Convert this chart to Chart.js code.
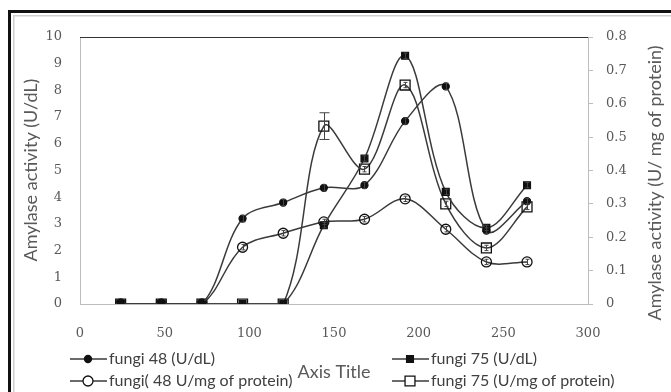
<!DOCTYPE html>
<html><head><meta charset="utf-8">
<script src="https://cdn.jsdelivr.net/npm/chart.js"></script>
<style>html,body{margin:0;padding:0;background:#fff}canvas{display:block}</style>
</head><body>
<canvas id="c" width="671" height="392"></canvas>
<script>
// ---- data ----
const hours = [24, 48, 72, 96, 120, 144, 168, 192, 216, 240, 264];
const fungi48UdL = [0, 0, 0, 3.2, 3.8, 4.35, 4.45, 6.85, 8.15, 2.75, 3.85];
const fungi75UdL = [0, 0, 0, 0, 0, 2.95, 5.45, 9.3, 4.2, 2.85, 4.45];
const fungi48Prot = [0, 0, 0, 0.17, 0.212, 0.246, 0.254, 0.315, 0.224, 0.126, 0.126];
const fungi75Prot = [0, 0, 0, 0, 0, 0.533, 0.404, 0.656, 0.300, 0.168, 0.291];
const fungi48UdLErr = [0, 0, 0, 0.12, 0.12, 0.12, 0.12, 0.12, 0.12, 0.1, 0.1];
const fungi75UdLErr = [0, 0, 0, 0, 0, 0.1, 0.1, 0.1, 0.1, 0.1, 0.1];
const fungi48ProtErr = [0, 0, 0, 0.008, 0.008, 0.008, 0.008, 0.008, 0.008, 0.008, 0.008];
const fungi75ProtErr = [0, 0, 0, 0, 0, 0.04, 0.008, 0.008, 0.008, 0.008, 0.008];
const xTicks = [0, 50, 100, 150, 200, 250, 300];
const leftTicks = [0, 1, 2, 3, 4, 5, 6, 7, 8, 9, 10];
const rightTicks = [0, 0.1, 0.2, 0.3, 0.4, 0.5, 0.6, 0.7, 0.8];
const seriesNames = ['fungi 48 (U/dL)', 'fungi 75 (U/dL)', 'fungi( 48 U/mg of protein)', 'fungi 75 (U/mg of protein)'];
const leftTitle = 'Amylase activity (U/dL)';
const rightTitle = 'Amylase activity (U/ mg of protein)';
const xTitle = 'Axis Title';

const LINE = '#3a3a3a';
const TXT = '#595959';
const pts = arr => hours.map((h, i) => ({x: h, y: arr[i]}));

function mk(label, data, axis, style, radius, fill, errs) {
  return {
    label, data: pts(data), yAxisID: axis, errs,
    borderColor: LINE, borderWidth: 1.5, tension: 0.35,
    pointStyle: style, pointRadius: radius, pointHoverRadius: radius,
    pointBackgroundColor: fill, pointBorderColor: '#111', pointBorderWidth: 1.3,
    fill: false
  };
}

const datasets = [
  mk(seriesNames[0], fungi48UdL, 'yL', 'circle', 3.5, '#111', fungi48UdLErr),
  mk(seriesNames[1], fungi75UdL, 'yL', 'rect', 4.8, '#111', fungi75UdLErr),
  mk(seriesNames[2], fungi48Prot, 'yR', 'circle', 5, 'rgba(255,255,255,0)', fungi48ProtErr),
  mk(seriesNames[3], fungi75Prot, 'yR', 'rect', 7, 'rgba(255,255,255,0)', fungi75ProtErr)
];

const tickFont = {family: 'DejaVu Serif', size: 13};

const decor = {
  id: 'decor',
  beforeDraw(chart) {
    const ctx = chart.ctx;
    ctx.save();
    ctx.fillStyle = '#fff';
    ctx.fillRect(0, 0, chart.width, chart.height);
    ctx.fillStyle = '#111';
    ctx.fillRect(8, 10, 3, chart.height - 10);
    ctx.fillRect(8, 10, chart.width - 8, 3);
    ctx.fillStyle = '#cfcfcf';
    ctx.fillRect(13, 15, 1.5, chart.height - 15);
    ctx.fillRect(13, 15, chart.width - 13, 1.5);
    ctx.restore();
  },
  afterDatasetsDraw(chart) {
    const ctx = chart.ctx;
    const a = chart.chartArea;
    ctx.save();
    ctx.strokeStyle = '#333';
    ctx.lineWidth = 1.2;
    ctx.beginPath();
    ctx.moveTo(a.left, a.top + 0.5);
    ctx.lineTo(a.right, a.top + 0.5);
    ctx.stroke();
    ctx.strokeStyle = '#444';
    ctx.lineWidth = 1;
    chart.data.datasets.forEach(ds => {
      const ys = chart.scales[ds.yAxisID];
      const xs = chart.scales.x;
      ds.data.forEach((p, i) => {
        const e = ds.errs[i];
        if (!e) return;
        const px = Math.round(xs.getPixelForValue(p.x)) + 0.5;
        const y1 = ys.getPixelForValue(p.y - e), y2 = ys.getPixelForValue(p.y + e);
        const cap = e > 0.03 && ds.yAxisID === 'yR' ? 5 : 2;
        ctx.beginPath();
        ctx.moveTo(px, y1); ctx.lineTo(px, y2);
        ctx.moveTo(px - cap, y1); ctx.lineTo(px + cap, y1);
        ctx.moveTo(px - cap, y2); ctx.lineTo(px + cap, y2);
        ctx.stroke();
      });
    });
    ctx.restore();
  },
  afterDraw(chart) {
    const ctx = chart.ctx;
    ctx.save();
    ctx.fillStyle = TXT;
    ctx.font = '18px Lato';
    ctx.textAlign = 'center';
    ctx.textBaseline = 'middle';
    ctx.save();
    ctx.translate(31, 170);
    ctx.rotate(-Math.PI / 2);
    ctx.fillText(leftTitle, 0, 0);
    ctx.restore();
    ctx.save();
    ctx.translate(655, 183);
    ctx.rotate(-Math.PI / 2);
    ctx.fillText(rightTitle, 0, 0);
    ctx.restore();
    ctx.fillText(xTitle, 334, 372);
    const items = [
      {ds: 0, x: 70, y: 359},
      {ds: 1, x: 392, y: 359},
      {ds: 2, x: 70, y: 381},
      {ds: 3, x: 392, y: 381}
    ];
    ctx.font = '16px Lato';
    ctx.textAlign = 'left';
    items.forEach(it => {
      const ds = chart.data.datasets[it.ds];
      ctx.strokeStyle = LINE;
      ctx.lineWidth = 1.5;
      ctx.beginPath();
      ctx.moveTo(it.x, it.y); ctx.lineTo(it.x + 37, it.y);
      ctx.stroke();
      const cx = it.x + 18, r = ds.pointRadius;
      ctx.fillStyle = ds.pointBackgroundColor === '#111' ? '#111' : '#fff';
      ctx.strokeStyle = '#111';
      ctx.lineWidth = 1.3;
      ctx.beginPath();
      if (ds.pointStyle === 'circle') ctx.arc(cx, it.y, r, 0, Math.PI * 2);
      else ctx.rect(cx - r * 0.707, it.y - r * 0.707, r * 1.414, r * 1.414);
      ctx.fill(); ctx.stroke();
      ctx.fillStyle = '#404040';
      ctx.fillText(ds.label, it.x + 39, it.y);
    });
    ctx.restore();
  }
};

new Chart(document.getElementById('c'), {
  type: 'line',
  data: {datasets},
  plugins: [decor],
  options: {
    responsive: false,
    animation: false,
    events: [],
    layout: {padding: {left: 0, right: 0, top: 37, bottom: 0}},
    plugins: {legend: {display: false}, tooltip: {enabled: false}},
    scales: {
      x: {
        type: 'linear', position: 'bottom', min: 0, max: 300,
        afterBuildTicks: s => { s.ticks = xTicks.map(v => ({value: v})); },
        afterFit: s => { s.height = 88; },
        grid: {display: false, drawTicks: false},
        border: {display: true, color: '#bdbdbd', width: 1},
        ticks: {font: tickFont, color: TXT, padding: 22, maxRotation: 0}
      },
      yL: {
        type: 'linear', position: 'left', min: 0, max: 10,
        afterBuildTicks: s => { s.ticks = leftTicks.map(v => ({value: v})); },
        afterFit: s => { s.width = 80; },
        grid: {display: false, drawTicks: false},
        border: {display: true, color: '#bdbdbd', width: 1},
        ticks: {font: tickFont, color: TXT, padding: 18}
      },
      yR: {
        type: 'linear', position: 'right', min: 0, max: 0.8,
        afterBuildTicks: s => { s.ticks = rightTicks.map(v => ({value: v})); },
        afterFit: s => { s.width = 83; },
        grid: {display: true, drawOnChartArea: false, drawTicks: true, tickLength: 5, color: '#bdbdbd'},
        border: {display: true, color: '#bdbdbd', width: 1},
        ticks: {font: tickFont, color: TXT, padding: 13, callback: v => String(v)}
      }
    }
  }
});
</script>
</body></html>
